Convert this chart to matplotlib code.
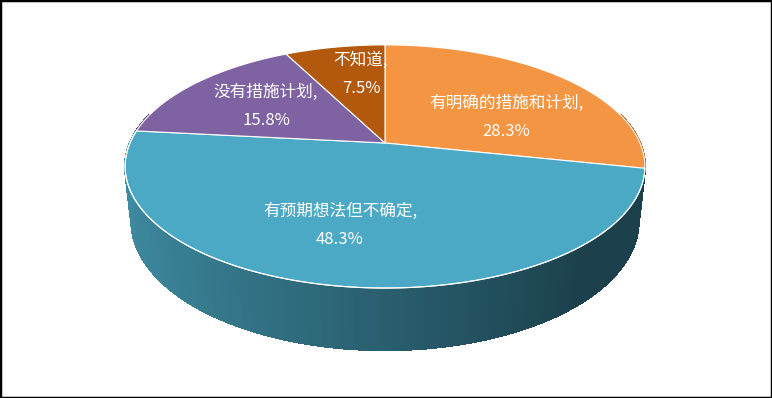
import numpy as np
import matplotlib.pyplot as plt
from matplotlib.patches import Polygon, Rectangle
from matplotlib.collections import PolyCollection
from matplotlib.colors import to_rgb

plt.rcParams['font.family'] = ['Noto Sans CJK SC', 'DejaVu Sans']

# data
categories = ['有明确的措施和计划', '有预期想法但不确定', '没有措施计划', '不知道']
shares = [28.3, 48.3, 15.8, 7.5]
top_colors = ['#F39543', '#4BA9C6', '#7F62A1', '#B3590E']
side_colors = ['#A65E22', None, '#574170', '#7A3C0A']

# label anchors (pixel layout)
label_pos = [(506, 117), (340, 225), (266, 106), (361, 74)]

# perspective pie geometry (pixel units)
cx, cy = 385, 143
F, D = 1173.0, 4.6
sin_e, cos_e = 0.459, 0.888
H = 0.243


def project(theta, r=1.0, z=0.0):
    x = r * np.cos(theta)
    y = r * np.sin(theta)
    vert = y * sin_e + z * cos_e
    depth = D + y * cos_e - z * sin_e
    return cx + F * x / depth, cy - F * vert / depth


def side_color(i, theta):
    if side_colors[i] is not None:
        return side_colors[i]
    light = np.array(to_rgb('#3E8BA1'))
    dark = np.array(to_rgb('#1C414D'))
    t = np.clip((np.cos(theta) + 1) / 1.65, 0, 1)
    return tuple(light + (dark - light) * t)


fig = plt.figure(figsize=(7.72, 3.98), dpi=100)
ax = fig.add_axes([0, 0, 1, 1])
ax.set_xlim(0, 772)
ax.set_ylim(398, 0)
ax.axis('off')

# slice angles, clockwise from 12 o'clock
fracs = np.array(shares) / sum(shares)
bounds = np.pi / 2 - 2 * np.pi * np.concatenate([[0], np.cumsum(fracs)])

# side walls
strips, colors = [], []
for i in range(len(shares)):
    th = np.linspace(bounds[i], bounds[i + 1], 200)
    for a, b in zip(th[:-1], th[1:]):
        if np.sin((a + b) / 2) > 0.25:
            continue
        p1 = project(a)
        p2 = project(b)
        p3 = project(b, z=-H)
        p4 = project(a, z=-H)
        strips.append([p1, p2, p3, p4])
        colors.append(side_color(i, (a + b) / 2))
ax.add_collection(PolyCollection(strips, facecolors=colors, edgecolors=colors,
                                 linewidths=1.0, antialiaseds=False))

# top faces
for i in range(len(shares)):
    th = np.linspace(bounds[i], bounds[i + 1], 300)
    xs, ys = project(th)
    pts = np.column_stack([np.r_[cx, xs], np.r_[cy, ys]])
    ax.add_patch(Polygon(pts, closed=True, facecolor=top_colors[i], edgecolor='white', linewidth=0.8))

# front rim highlight
th = np.linspace(bounds[1], bounds[2], 300)
xs, ys = project(th)
ax.plot(xs, ys, color='white', lw=0.8)

for i, (x, y) in enumerate(label_pos):
    ax.text(x, y, f'{categories[i]},\n{shares[i]:.1f}%', color='white', fontsize=12,
            ha='center', va='center', linespacing=1.85)

fig.add_artist(Rectangle((0, 0), 1, 1, transform=fig.transFigure, fill=False,
                         edgecolor='black', linewidth=2.5))

fig.savefig('out.png', dpi=100)
